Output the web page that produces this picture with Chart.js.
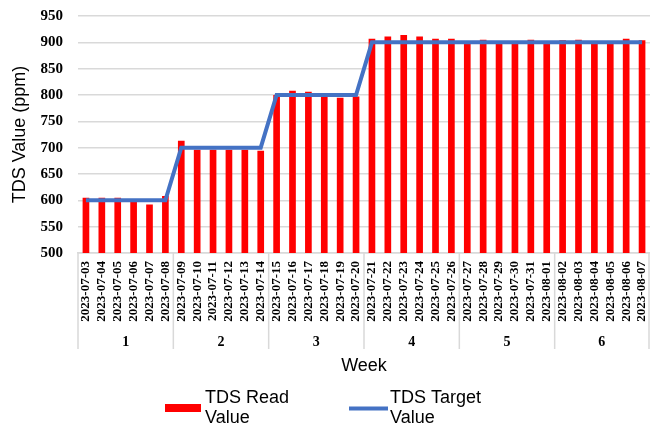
<!DOCTYPE html>
<html>
<head>
<meta charset="utf-8">
<script src="https://cdn.jsdelivr.net/npm/chart.js@4"></script>
<style>
html,body{margin:0;padding:0;background:#fff;}
#wrap{width:650px;height:430px;position:relative;}
</style>
</head>
<body>
<div id="wrap"><canvas id="c"></canvas></div>
<script>
const dates = ['2023-07-03','2023-07-04','2023-07-05','2023-07-06','2023-07-07','2023-07-08',
  '2023-07-09','2023-07-10','2023-07-11','2023-07-12','2023-07-13','2023-07-14',
  '2023-07-15','2023-07-16','2023-07-17','2023-07-18','2023-07-19','2023-07-20',
  '2023-07-21','2023-07-22','2023-07-23','2023-07-24','2023-07-25','2023-07-26',
  '2023-07-27','2023-07-28','2023-07-29','2023-07-30','2023-07-31','2023-08-01',
  '2023-08-02','2023-08-03','2023-08-04','2023-08-05','2023-08-06','2023-08-07'];
const weeks = ['1','2','3','4','5','6'];
const daysPerWeek = [6,6,6,6,6,6];
const readValues = [605,605,605,598,592,608, 713,696,696,696,696,694, 800,808,806,797,795,797,
  907,911,914,911,907,907, 897,905,897,897,905,897, 904,905,897,897,907,904];
const targetValues = [600,600,600,600,600,600, 700,700,700,700,700,700, 800,800,800,800,800,800,
  900,900,900,900,900,900, 900,900,900,900,900,900, 900,900,900,900,900,900];
const yTicks = [500,550,600,650,700,750,800,850,900,950];
const seriesNames = [['TDS Read','Value'], ['TDS Target','Value']];
const xTitle = 'Week';
const yTitle = 'TDS Value (ppm)';

const RED = '#ff0000', BLUE = '#4472c4', GRID = '#d9d9d9';
const SANS = '"Liberation Sans", Arial, sans-serif';
const SERIF = '"Liberation Serif", "Times New Roman", serif';

const extras = {
  id: 'extras',
  afterDraw(chart) {
    const ctx = chart.ctx, x = chart.scales.x, ca = chart.chartArea;
    ctx.save();
    // group separators
    ctx.strokeStyle = GRID; ctx.lineWidth = 1.5;
    const bounds = [ca.left];
    let idx = 0;
    for (let w = 0; w < daysPerWeek.length; w++) {
      idx += daysPerWeek[w];
      if (idx < dates.length) bounds.push((x.getPixelForValue(idx - 1) + x.getPixelForValue(idx)) / 2);
    }
    bounds.push(ca.right - 1);
    bounds.forEach(b => { ctx.beginPath(); ctx.moveTo(b, ca.bottom); ctx.lineTo(b, 349); ctx.stroke(); });
    // week labels
    ctx.fillStyle = '#000'; ctx.font = 'bold 14px ' + SERIF; ctx.textAlign = 'center'; ctx.textBaseline = 'middle';
    for (let w = 0; w < weeks.length; w++) ctx.fillText(weeks[w], (bounds[w] + bounds[w + 1]) / 2, 342);
    // x title
    ctx.font = '18px ' + SANS;
    ctx.fillText(xTitle, (ca.left + ca.right) / 2, 366);
    // legend
    ctx.textAlign = 'left'; ctx.textBaseline = 'alphabetic';
    ctx.fillStyle = RED; ctx.fillRect(165, 404, 36, 8);
    ctx.strokeStyle = BLUE; ctx.lineWidth = 4; ctx.beginPath(); ctx.moveTo(349, 408.5); ctx.lineTo(388, 408.5); ctx.stroke();
    ctx.fillStyle = '#000'; ctx.font = '18px ' + SANS;
    ctx.fillText(seriesNames[0][0], 205, 403); ctx.fillText(seriesNames[0][1], 205, 423);
    ctx.fillText(seriesNames[1][0], 390, 403); ctx.fillText(seriesNames[1][1], 390, 423);
    ctx.restore();
  }
};

new Chart(document.getElementById('c'), {
  data: {
    labels: dates,
    datasets: [
      { type: 'line', label: seriesNames[1].join(' '), data: targetValues, borderColor: BLUE, backgroundColor: BLUE,
        borderWidth: 4, pointRadius: 0, tension: 0, order: 0 },
      { type: 'bar', label: seriesNames[0].join(' '), data: readValues, backgroundColor: RED,
        barPercentage: 0.42, categoryPercentage: 1, order: 1 }
    ]
  },
  options: {
    responsive: true, maintainAspectRatio: false, animation: false,
    layout: { padding: { top: 16, right: 0, left: 0, bottom: 0 } },
    plugins: { legend: { display: false }, tooltip: { enabled: false } },
    scales: {
      x: {
        grid: { display: true, drawOnChartArea: false, drawTicks: false },
        border: { display: true, color: GRID, width: 1.5 },
        ticks: { autoSkip: false, maxRotation: 90, minRotation: 90, padding: 8, color: '#000',
                 font: { family: SERIF, size: 13, weight: 'bold' } },
        afterFit(s) { s.height = 177; s.paddingLeft = 0; s.paddingRight = 0; }
      },
      y: {
        min: 500, max: 950,
        afterBuildTicks(s) { s.ticks = yTicks.map(v => ({ value: v })); },
        grid: { color: GRID, lineWidth: 1.5, drawTicks: false },
        border: { display: false },
        ticks: { padding: 15, color: '#000', font: { family: SERIF, size: 15, weight: 'bold' } },
        title: { display: true, text: yTitle, color: '#000', font: { family: SANS, size: 18 }, padding: { top: 9, bottom: 4 } },
        afterFit(s) { s.width = 78; s.paddingTop = 0; s.paddingBottom = 0; }
      }
    }
  },
  plugins: [extras]
});
</script>
</body>
</html>
